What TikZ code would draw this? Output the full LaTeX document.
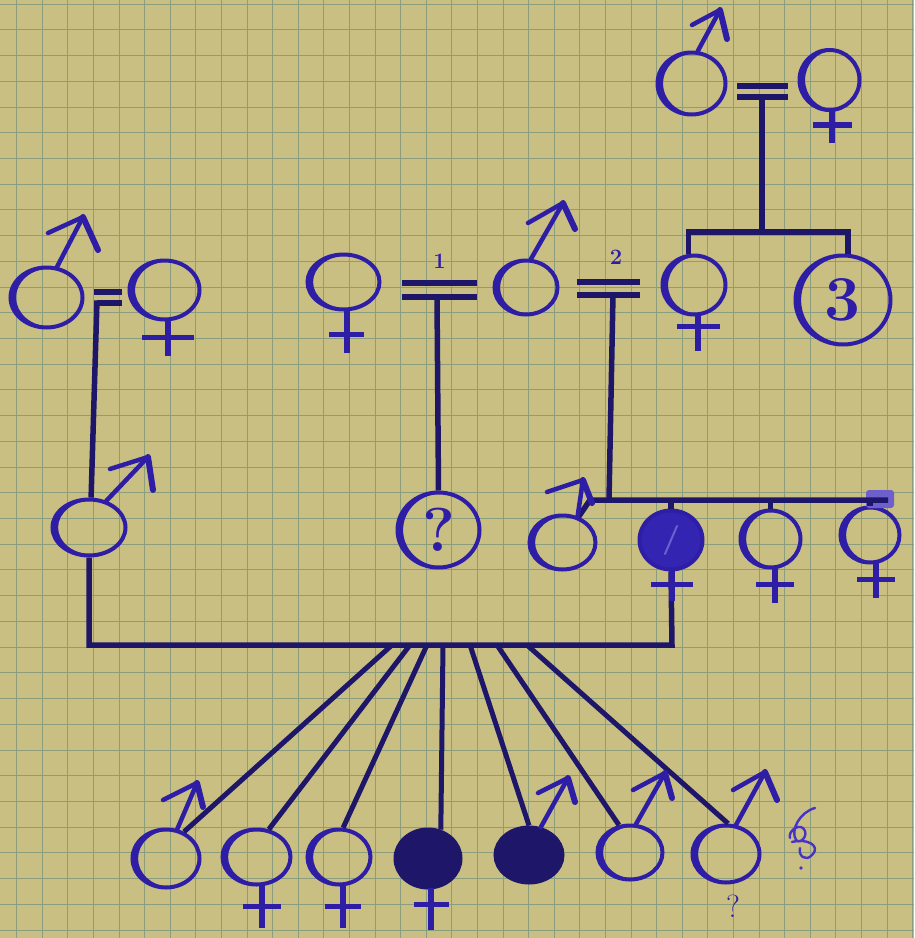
\documentclass[tikz,border=0pt]{standalone}
\usetikzlibrary{shapes.geometric,calc}
\definecolor{paper}{RGB}{201,191,131}
\definecolor{gridc}{RGB}{138,158,126}
\definecolor{ink}{RGB}{46,30,165}
\definecolor{inkd}{RGB}{30,22,105}
\definecolor{inkf}{RGB}{52,36,178}
\definecolor{inkl}{RGB}{72,52,196}
\definecolor{smudge}{RGB}{110,95,205}
\begin{document}
\begin{tikzpicture}[x=1pt,y=-1pt,
  sym/.style 2 args={ellipse,draw=ink,line width=4pt,inner sep=0pt,minimum width=#1pt,minimum height=#2pt},
  conn/.style={draw=inkd,line width=5.5pt},
  fan/.style={draw=inkd,line width=5pt},
  mar/.style={draw=inkd,line width=5.5pt},
  stem/.style={draw=ink,line width=6pt},
  bar/.style={draw=ink,line width=5.5pt},
  marrow/.style={draw=ink,line width=4.5pt,line join=round,line cap=round},
  lbl/.style={text=ink,inner sep=0pt}]
% paper
\fill[paper] (0,0) rectangle (914,938);
\useasboundingbox (0,0) rectangle (914,938);
\foreach \k in {0,...,35} \draw[gridc,line width=0.7pt] ({16.5+25.6*\k},0) -- ({16.5+25.6*\k},938);
\foreach \k in {0,...,36} \draw[gridc,line width=0.7pt] (0,{4+25.72*\k}) -- (914,{4+25.72*\k});

% open symbols: name / x / y / width / height
\foreach \n/\x/\y/\w/\h in {gm/691.5/83.5/68/62, gf/829.5/80/60/60,
   lm/46.5/297.5/72/60, lf/164.5/290/70/59, mf/343.5/282/72/55, mm/526/287.5/63/54, rf/694/285/63/59,
   m3/89/527.5/73/56, mc/562.5/542.5/66/54, f3/770.5/539/60/57, f4/870/535/59/55,
   c1/166/858.5/67/58, c2/256.5/857/68/55, c3/339/857/63/55, c6/630/852.5/65/54, c7/726/854/67/57}{
  \node[sym={\w}{\h}] (\n) at (\x,\y) {};
  \fill[ink,even odd rule] (\n.center) ellipse ({\w/2} and {\h/2})
     ($(\n.center)+(2.8,0)$) ellipse ({\w/2-2.8} and {\h/2-1.2});
}
\node[sym={95}{89},font=\bfseries\fontsize{64}{64}\selectfont,text=ink] (three) at (843,300) {3};
\fill[ink,even odd rule] (three.center) ellipse (47.5 and 44.5) ($(three.center)+(2.8,0)$) ellipse (44.7 and 43.3);
\node[sym={82}{75},font=\bfseries\fontsize{62}{62}\selectfont,text=ink] (q) at (438.5,530) {?};
\fill[ink,even odd rule] (q.center) ellipse (41 and 37.5) ($(q.center)+(2.8,0)$) ellipse (38.2 and 36.3);
% filled symbols
\node[sym={63}{59},fill=inkf] (ff) at (671,540) {};
\draw[smudge,line width=2pt,line cap=round] ($(ff.center)+(-6,14)$) -- ($(ff.center)+(6,-14)$);
\node[sym={65}{58},fill=inkd,draw=inkd] (c4) at (428,858.5) {};
\node[sym={67}{55},fill=inkd,draw=inkd] (c5) at (529,855) {};

% marriage gen I and sibship
\draw[mar] ($(gm.center)+(45.5,2.5)$) -- ($(gm.center)+(96.5,2.5)$);
\draw[mar] ($(gm.center)+(45.5,13.5)$) -- ($(gm.center)+(96.5,13.5)$);
\coordinate (gI) at ($(gm.center)+(70.5,13.5)$);
\coordinate (gS) at ($(gm.center)+(70.5,148.5)$);
\draw[conn] (gI) -- (gS);
\draw[conn,line join=miter] (rf.100) |- (gS) -| (three.84);

% left marriage
\draw[mar] ($(lm.center)+(47,-5.5)$) -- ($(lm.center)+(75,-5.5)$);
\draw[mar] ($(lm.center)+(50,5.5)$) -- ($(lm.center)+(75,5.5)$);
\draw[conn] ($(lm.center)+(50.5,3)$) -- (m3.86);

% marriage 1
\draw[mar] ($(mf.center)+(58.5,1)$) -- ($(mf.center)+(133.5,1)$);
\draw[mar] ($(mf.center)+(58.5,15)$) -- ($(mf.center)+(133.5,15)$);
\node[lbl,font=\bfseries\fontsize{22}{22}\selectfont] (l1) at ($(mf.center)+(96,-21)$) {1};
\draw[conn] ($(mf.center)+(93.5,15)$) -- (q.north);

% marriage 2
\draw[mar] ($(mm.center)+(51,-5.5)$) -- ($(mm.center)+(114,-5.5)$);
\draw[mar] ($(mm.center)+(51,7.5)$) -- ($(mm.center)+(114,7.5)$);
\node[lbl,font=\bfseries\fontsize{22}{22}\selectfont] (l2) at ($(mm.center)+(90,-30)$) {2};
\coordinate (sL) at (590,500);
\coordinate (sR) at (888,500);
\coordinate (s2) at (609,500);
\draw[conn] ($(mm.center)+(87,7.5)$) -- (s2);

% sibship gen III right
\fill[smudge,rounded corners=3pt] (866,490) rectangle (894,508);
\draw[conn,line join=round] (mc.58) -- (sL) -- (sR);
\draw[conn] (ff.north |- sL) -- (ff.north);
\draw[conn] (f3.north |- sL) -- (f3.north);
\draw[conn] (f4.north |- sL) -- (f4.north);

% union line and fan
\coordinate (u) at (672,645);
\draw[conn,line join=miter] (m3.south) |- (u) -- (ff.south);
\foreach \i/\ox/\c/\a in {1/392/c1/56, 2/410/c2/66, 3/427/c3/82, 4/443/c4/66, 5/470/c5/90, 6/497/c6/112, 7/527/c7/86}{
  \coordinate (o\i) at (\ox,645);
  \draw[fan] (o\i) -- (\c.\a);
}

% female crosses: node / dx / stem length / bar offset / half width
\foreach \n/\dx/\len/\by/\hw in {gf/2.5/33/13/19.5, lf/3.5/36/16/26, mf/3/43/23/17.5, rf/4/36/10/21.5,
   ff/1/31/13/21, f3/4.5/35/15/19, f4/6/35/15/19, c2/5.5/43/20/19, c3/4/43/20/18, c4/3/42/15/17.5}{
  \draw[stem] ($(\n.south)+(\dx,-2)$) -- ++(0,\len);
  \draw[bar] ($(\n.south)+(\dx-\hw,\by)$) -- ($(\n.south)+(\dx+\hw,\by)$);
}

% male arrows: node / angle / tip / left barb / right barb (offsets from centre)
\foreach \n/\a/\tx/\ty/\lx/\ly/\rx/\ry in {gm/79/28.5/-73.5/0.5/-58.5/35.5/-44.5,
   lm/71/36.5/-80.5/1.5/-64.5/51.5/-47.5, mm/80/37/-84.5/2/-64.5/49/-58.5,
   m3/57/59/-70.5/21/-58.5/64/-37.5, mc/60/20.5/-62.5/-15.5/-50.5/29.5/-39.5,
   c1/69/31/-75.5/-3/-58.5/37/-51.5, c5/67/39/-77/9/-62/46/-53,
   c6/78/35/-79.5/3/-62.5/42/-54.5, c7/71/39/-82/7/-64/51/-54}{
  \draw[marrow] (\n.\a) -- ($(\n.center)+(\tx,\ty)$);
  \draw[marrow] ($(\n.center)+(\lx,\ly)$) -- ($(\n.center)+(\tx,\ty)$);
  \draw[marrow,line width=6pt] ($(\n.center)+(\tx,\ty)$) -- ($(\n.center)+(\rx,\ry)$);
}

% question mark under last child
\node[lbl,font=\fontsize{32}{32}\selectfont] (qq) at ($(c7.south)+(7,22)$) {?};

% small scribbled mark
\draw[inkl,line width=2.4pt,line cap=round,line join=round]
  (815,808) .. controls (800,812) and (790,830) .. (796,840)
  .. controls (800,845) and (810,835) .. (803,828)
  .. controls (797,824) and (788,832) .. (790,838);
\draw[inkl,line width=2.4pt,line cap=round,line join=round]
  (792,842) .. controls (805,838) and (822,845) .. (812,855)
  .. controls (806,862) and (798,856) .. (800,848);
\fill[inkl] (801,868) circle (1.8);
\end{tikzpicture}
\end{document}
